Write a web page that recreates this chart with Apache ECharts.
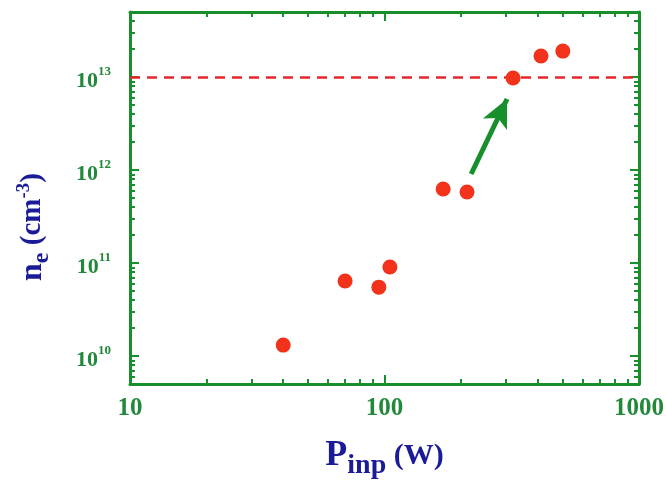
<!DOCTYPE html>
<html>
<head>
<meta charset="utf-8">
<script src="https://cdn.jsdelivr.net/npm/echarts@6/dist/echarts.min.js"></script>
<style>html,body{margin:0;padding:0;background:#fff;}#c{width:666px;height:482px;}</style>
</head>
<body>
<div id="c"></div>
<script>
// Data
const powerW = [40, 70, 95, 105, 170, 211, 320, 412, 502];
const density = [1.31e10, 6.4e10, 5.5e10, 9.06e10, 6.25e11, 5.8e11, 9.75e12, 1.68e13, 1.9e13];
const cutoffDensity = 1e13;
const arrowFrom = [219, 9.06e11];
const arrowTo = [303, 5.8e12];
const xMajorTicks = [10, 100, 1000];
const xMinorTicks = [20, 30, 40, 50, 60, 70, 80, 90, 200, 300, 400, 500, 600, 700, 800, 900];
const yMajorTicks = [1e10, 1e11, 1e12, 1e13];
const yMinorTicks = [6e9, 7e9, 8e9, 9e9, 2e10, 3e10, 4e10, 5e10, 6e10, 7e10, 8e10, 9e10, 2e11, 3e11, 4e11, 5e11, 6e11, 7e11, 8e11, 9e11, 2e12, 3e12, 4e12, 5e12, 6e12, 7e12, 8e12, 9e12, 2e13, 3e13, 4e13];

const GREEN = '#17902b';
const LABEL_GREEN = '#23893a';
const NAVY = '#1b1b97';
const RED = '#f2321a';
const DASH_RED = '#e8262a';
const SERIF = '"Liberation Serif", "DejaVu Serif", serif';

const chart = echarts.init(document.getElementById('c'), null, {renderer: 'canvas'});

function xAxisDef(pos, ticks, len, showLine, showLabel) {
  const a = {
    type: 'log', logBase: 10, min: 10, max: 1000, position: pos,
    splitLine: {show: false},
    axisLine: {show: showLine, onZero: false, lineStyle: {color: GREEN, width: 3}},
    axisTick: {show: true, inside: true, length: len, customValues: ticks, lineStyle: {color: GREEN, width: 2}},
    axisLabel: {show: false}
  };
  if (showLabel) {
    a.axisLabel = {show: true, customValues: ticks, margin: 12, color: LABEL_GREEN,
      fontFamily: SERIF, fontWeight: 'bold', fontSize: 25,
      formatter: v => String(Math.round(v))};
    a.name = '{p|P}{s|inp}{w| (W)}';
    a.nameLocation = 'middle';
    a.nameGap = 48;
    a.nameTextStyle = {rich: {
      p: {fontFamily: SERIF, fontWeight: 'bold', fontSize: 36, color: NAVY},
      s: {fontFamily: SERIF, fontWeight: 'bold', fontSize: 28, color: NAVY, padding: [20, 0, 0, 0]},
      w: {fontFamily: SERIF, fontWeight: 'bold', fontSize: 30, color: NAVY}
    }};
  }
  return a;
}

function yAxisDef(pos, ticks, len, showLine, showLabel) {
  const a = {
    type: 'log', logBase: 10, min: 5e9, max: 5e13, position: pos,
    splitLine: {show: false},
    axisLine: {show: showLine, onZero: false, lineStyle: {color: GREEN, width: 3}},
    axisTick: {show: true, inside: true, length: len, customValues: ticks, lineStyle: {color: GREEN, width: 2}},
    axisLabel: {show: false}
  };
  if (showLabel) {
    a.axisLabel = {show: true, customValues: ticks, margin: 19,
      formatter: v => '{b|10}{e|' + Math.round(Math.log10(v)) + '}',
      rich: {
        b: {fontFamily: SERIF, fontWeight: 'bold', fontSize: 22, color: LABEL_GREEN, padding: [8, 0, 0, 0]},
        e: {fontFamily: SERIF, fontWeight: 'bold', fontSize: 13, color: LABEL_GREEN, padding: [0, 0, 10, 0]}
      }};
    a.name = '{n|n}{s|e}{u| (cm}{x|-3}{u|)}';
    a.nameLocation = 'middle';
    a.nameRotate = 90;
    a.nameGap = 76;
    a.nameTextStyle = {padding: [0, 58, 0, 0], rich: {
      n: {fontFamily: SERIF, fontWeight: 'bold', fontSize: 32, color: NAVY},
      s: {fontFamily: SERIF, fontWeight: 'bold', fontSize: 24, color: NAVY, padding: [18, 0, 0, 0]},
      u: {fontFamily: SERIF, fontWeight: 'bold', fontSize: 29, color: NAVY},
      x: {fontFamily: SERIF, fontWeight: 'bold', fontSize: 19, color: NAVY, padding: [0, 0, 18, 0]}
    }};
  }
  return a;
}

const option = {
  backgroundColor: '#ffffff',
  animation: false,
  grid: {left: 130, right: 27, top: 12, bottom: 98, containLabel: false, outerBoundsMode: 'none'},
  xAxis: [
    xAxisDef('bottom', xMajorTicks, 9, true, true),
    xAxisDef('bottom', xMinorTicks, 5, false, false),
    xAxisDef('top', xMajorTicks, 9, true, false),
    xAxisDef('top', xMinorTicks, 5, false, false)
  ],
  yAxis: [
    yAxisDef('left', yMajorTicks, 9, true, true),
    yAxisDef('left', yMinorTicks, 5, false, false),
    yAxisDef('right', yMajorTicks, 9, true, false),
    yAxisDef('right', yMinorTicks, 5, false, false)
  ],
  series: [
    {
      type: 'scatter', xAxisIndex: 0, yAxisIndex: 0,
      data: powerW.map((p, i) => [p, density[i]]),
      symbol: 'circle', symbolSize: 15,
      itemStyle: {color: RED, opacity: 1},
      z: 5,
      markLine: {
        silent: true, symbol: ['none', 'none'], animation: false,
        label: {show: false},
        lineStyle: {color: DASH_RED, width: 2.5, type: [10, 7], opacity: 1},
        data: [{yAxis: cutoffDensity}]
      }
    },
    {
      type: 'line', xAxisIndex: 0, yAxisIndex: 0, data: [],
      markLine: {
        silent: true, symbol: ['none', 'arrow'], symbolSize: [20, 28], animation: false,
        label: {show: false},
        lineStyle: {color: GREEN, width: 5, type: 'solid', opacity: 1},
        itemStyle: {color: GREEN},
        data: [[{coord: arrowFrom}, {coord: arrowTo}]]
      }
    }
  ]
};
chart.setOption(option);
</script>
</body>
</html>
